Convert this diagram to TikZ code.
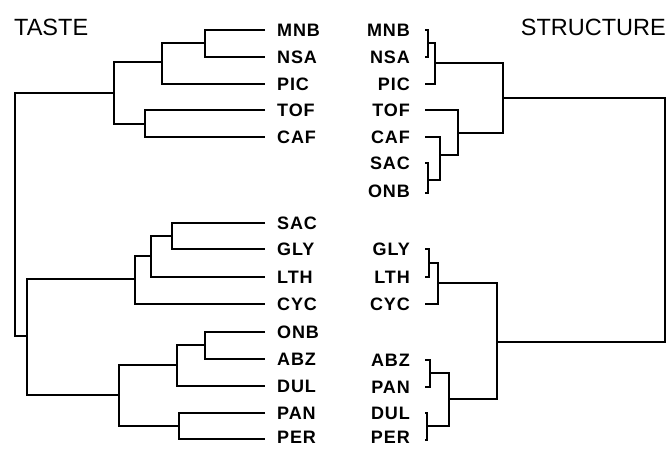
\documentclass[tikz,border=0pt]{standalone}
\usepackage{fontspec}
\setmainfont{Liberation Sans}
\newfontfamily\leaffont[LetterSpace=5]{Liberation Sans}
\usetikzlibrary{positioning}

\begin{document}
\begin{tikzpicture}[x=1pt, y=-1pt,
    branch/.style={line width=2.6pt, line join=miter},
    tleaf/.style={anchor=west, inner sep=0pt, font=\leaffont\bfseries\fontsize{18}{18}\selectfont},
    sleaf/.style={anchor=east, inner sep=0pt, font=\leaffont\bfseries\fontsize{18}{18}\selectfont},
    heading/.style={inner sep=0pt, font=\fontsize{23.5}{23.5}\selectfont}]
  \useasboundingbox (0,0) rectangle (669,448);
  % titles
  \node[heading, anchor=west] (taste) at (14,27) {TASTE};
  \node[heading, anchor=east] (structure) at (666,27) {STRUCTURE};
  % taste labels
  \node[tleaf] (tMNB) at (277,30) {MNB};
  \node[tleaf] (tNSA) at (277,57) {NSA};
  \node[tleaf] (tPIC) at (277,84) {PIC};
  \node[tleaf] (tTOF) at (277,110) {TOF};
  \node[tleaf] (tCAF) at (277,137) {CAF};
  \node[tleaf] (tSAC) at (277,223) {SAC};
  \node[tleaf] (tGLY) at (277,249) {GLY};
  \node[tleaf] (tLTH) at (277,277) {LTH};
  \node[tleaf] (tCYC) at (277,304) {CYC};
  \node[tleaf] (tONB) at (277,332) {ONB};
  \node[tleaf] (tABZ) at (277,359) {ABZ};
  \node[tleaf] (tDUL) at (277,386) {DUL};
  \node[tleaf] (tPAN) at (277,413) {PAN};
  \node[tleaf] (tPER) at (277,437) {PER};
  % structure labels
  \node[sleaf] (sMNB) at (410,30) {MNB};
  \node[sleaf] (sNSA) at (410,57) {NSA};
  \node[sleaf] (sPIC) at (410,84) {PIC};
  \node[sleaf] (sTOF) at (410,110) {TOF};
  \node[sleaf] (sCAF) at (410,137) {CAF};
  \node[sleaf] (sSAC) at (410,163) {SAC};
  \node[sleaf] (sONB) at (410,191) {ONB};
  \node[sleaf] (sGLY) at (410,249) {GLY};
  \node[sleaf] (sLTH) at (410,277) {LTH};
  \node[sleaf] (sCYC) at (410,304) {CYC};
  \node[sleaf] (sABZ) at (410,360) {ABZ};
  \node[sleaf] (sPAN) at (410,387) {PAN};
  \node[sleaf] (sDUL) at (410,413) {DUL};
  \node[sleaf] (sPER) at (410,437) {PER};
  % taste tree
  \draw[branch] (265,30) -- (205,30) -- (205,57) -- (265,57);
  \draw[branch] (205,43) -- (162,43) -- (162,84) -- (265,84);
  \draw[branch] (265,110) -- (145,110) -- (145,137) -- (265,137);
  \draw[branch] (162,62) -- (114,62) -- (114,124) -- (145,124);
  \draw[branch] (114,93) -- (15,93) -- (15,336) -- (27,336);
  \draw[branch] (265,223) -- (172,223) -- (172,249) -- (265,249);
  \draw[branch] (172,236) -- (151,236) -- (151,277) -- (265,277);
  \draw[branch] (151,256) -- (135,256) -- (135,304) -- (265,304);
  \draw[branch] (265,332) -- (205,332) -- (205,359) -- (265,359);
  \draw[branch] (205,345) -- (177,345) -- (177,386) -- (265,386);
  \draw[branch] (265,413) -- (179,413) -- (179,439) -- (265,439);
  \draw[branch] (177,365) -- (119,365) -- (119,426) -- (179,426);
  \draw[branch] (135,279) -- (27,279) -- (27,395) -- (119,395);
  % structure tree
  \draw[branch] (425,30) -- (428,30) -- (428,57) -- (425,57);
  \draw[branch] (428,43) -- (435,43) -- (435,84) -- (425,84);
  \draw[branch] (425,110) -- (458,110) -- (458,155) -- (440,155);
  \draw[branch] (425,137) -- (440,137) -- (440,180) -- (428,180);
  \draw[branch] (425,163) -- (428,163) -- (428,193) -- (425,193);
  \draw[branch] (435,63) -- (503,63) -- (503,133) -- (458,133);
  \draw[branch] (503,98) -- (665,98) -- (665,342) -- (497,342);
  \draw[branch] (425,249) -- (429,249) -- (429,277) -- (425,277);
  \draw[branch] (429,263) -- (438,263) -- (438,304) -- (425,304);
  \draw[branch] (425,360) -- (430,360) -- (430,387) -- (425,387);
  \draw[branch] (425,413) -- (427,413) -- (427,440) -- (425,440);
  \draw[branch] (430,373) -- (449,373) -- (449,426) -- (427,426);
  \draw[branch] (438,283) -- (497,283) -- (497,399) -- (449,399);
\end{tikzpicture}
\end{document}
